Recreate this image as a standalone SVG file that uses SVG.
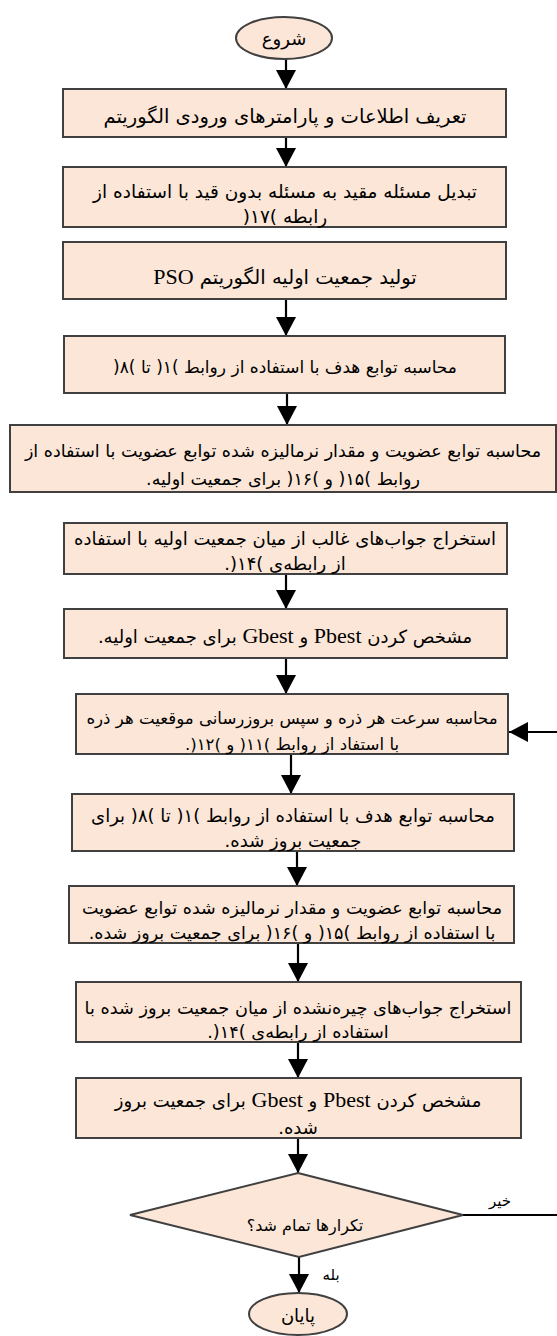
<svg xmlns="http://www.w3.org/2000/svg" width="557" height="1336" viewBox="0 0 557 1336">
<defs>
<marker id="ah" markerUnits="userSpaceOnUse" markerWidth="20" markerHeight="20" refX="19" refY="10" orient="auto">
<path d="M0,0 L19,10 L0,20 z" fill="#000"/>
</marker>
<style>
.box{fill:#fbe6d7;stroke:#404040;stroke-width:2}
.t{font-family:"DejaVu Sans",sans-serif;font-size:18px;fill:#000;text-anchor:middle;direction:rtl;unicode-bidi:embed}
.b{font-size:19.5px}
.m{font-size:18.5px}
.k{font-size:16.6px}
.l{font-family:"Liberation Serif",serif;font-size:22px}
.c{stroke:#000;stroke-width:2.2;fill:none}
.a{marker-end:url(#ah)}
.s{font-family:"DejaVu Sans",sans-serif;font-size:15px;fill:#000;text-anchor:middle;direction:rtl}
</style>
</defs>
<rect width="557" height="1336" fill="#fff"/>
<g id="connectors">
<line class="c a" x1="286" y1="59" x2="286" y2="89"/>
<line class="c a" x1="286" y1="137" x2="286" y2="167"/>
<line class="c a" x1="286" y1="299" x2="286" y2="336"/>
<line class="c a" x1="287" y1="393" x2="287" y2="425"/>
<line class="c a" x1="286" y1="574" x2="286" y2="609"/>
<line class="c a" x1="286" y1="658" x2="286" y2="694"/>
<line class="c a" x1="291" y1="754" x2="291" y2="794"/>
<line class="c a" x1="297" y1="851" x2="297" y2="886"/>
<line class="c a" x1="298" y1="943" x2="298" y2="982"/>
<line class="c a" x1="298" y1="1042" x2="298" y2="1078"/>
<line class="c a" x1="298" y1="1138" x2="298" y2="1173"/>
<line class="c a" x1="299" y1="1257" x2="299" y2="1293"/>
<line class="c" x1="463" y1="1215" x2="557" y2="1215"/>
<line class="c a" x1="557" y1="732" x2="509" y2="732"/>
<text class="s" x="500" y="1206">خیر</text>
<text class="s" x="331" y="1280">بله</text>
</g>
<g id="start">
<ellipse cx="284" cy="38" rx="48" ry="21" class="box"/>
<text class="t" x="284" y="45">شروع</text>
</g>
<g id="n1">
<rect class="box" x="63" y="89" width="443" height="48"/>
<text class="t b" x="285" y="123">تعریف اطلاعات و پارامترهای ورودی الگوریتم</text>
</g>
<g id="n2">
<rect class="box" x="63" y="167" width="443" height="60"/>
<text class="t m" x="285" y="198">تبدیل مسئله مقید به مسئله بدون قید با استفاده از</text>
<text class="t m" x="285" y="223">رابطه )۱۷(</text>
</g>
<g id="n3">
<rect class="box" x="63" y="242" width="443" height="57"/>
<text class="t b" x="285" y="284">تولید جمعیت اولیه الگوریتم <tspan class="l">PSO</tspan></text>
</g>
<g id="n4">
<rect class="box" x="64" y="336" width="441" height="57"/>
<text class="t" x="285" y="373" style="font-size:17px">محاسبه توابع هدف با استفاده از روابط )۱( تا )۸(</text>
</g>
<g id="n5">
<rect class="box" x="10" y="425" width="546" height="67"/>
<text class="t" x="283" y="457" style="font-size:17.5px">محاسبه توابع عضویت و مقدار نرمالیزه شده توابع عضویت با استفاده از</text>
<text class="t" x="283" y="485" style="font-size:17.5px">روابط )۱۵( و )۱۶( برای جمعیت اولیه.</text>
</g>
<g id="n6">
<rect class="box" x="64" y="523" width="443" height="51"/>
<text class="t" x="285" y="545">استخراج جواب‌های غالب از میان جمعیت اولیه با استفاده</text>
<text class="t" x="285" y="570">از رابطه‌ی )۱۴(.</text>
</g>
<g id="n7">
<rect class="box" x="64" y="609" width="443" height="49"/>
<text class="t" x="285" y="643">مشخص کردن <tspan class="l">Pbest</tspan> و  <tspan class="l">Gbest</tspan> برای جمعیت اولیه.</text>
</g>
<g id="n8">
<rect class="box" x="76" y="694" width="432" height="60"/>
<text class="t k" x="292" y="724">محاسبه سرعت هر ذره و سپس بروزرسانی موقعیت هر ذره</text>
<text class="t k" x="292" y="750">با استفاد از روابط )۱۱( و )۱۲(.</text>
</g>
<g id="n9">
<rect class="box" x="72" y="794" width="442" height="57"/>
<text class="t" x="293" y="822">محاسبه توابع هدف با استفاده از روابط )۱( تا )۸( برای</text>
<text class="t" x="293" y="847">جمعیت بروز شده.</text>
</g>
<g id="n10">
<rect class="box" x="69" y="886" width="445" height="57"/>
<text class="t" x="292" y="914" style="font-size:17.5px">محاسبه توابع عضویت و مقدار نرمالیزه شده توابع عضویت</text>
<text class="t" x="292" y="939" style="font-size:17.5px">با استفاده از روابط )۱۵( و )۱۶( برای جمعیت بروز شده.</text>
</g>
<g id="n11">
<rect class="box" x="76" y="982" width="445" height="60"/>
<text class="t" x="298" y="1014" style="font-size:17.7px">استخراج جواب‌های چیره‌نشده از میان جمعیت بروز شده با</text>
<text class="t" x="298" y="1038" style="font-size:17.7px">استفاده از رابطه‌ی )۱۴(.</text>
</g>
<g id="n12">
<rect class="box" x="76" y="1078" width="445" height="60"/>
<text class="t" x="298" y="1107">مشخص کردن <tspan class="l">Pbest</tspan> و  <tspan class="l">Gbest</tspan> برای جمعیت  بروز</text>
<text class="t" x="298" y="1134">شده.</text>
</g>
<g id="decision">
<polygon class="box" points="298,1173 463,1215 299,1257 130,1215"/>
<text class="t" x="305" y="1231" style="font-size:16px">تکرارها تمام شد؟</text>
</g>
<g id="end">
<ellipse cx="298" cy="1314" rx="49" ry="21" class="box"/>
<text class="t" x="298" y="1322">پایان</text>
</g>
</svg>
